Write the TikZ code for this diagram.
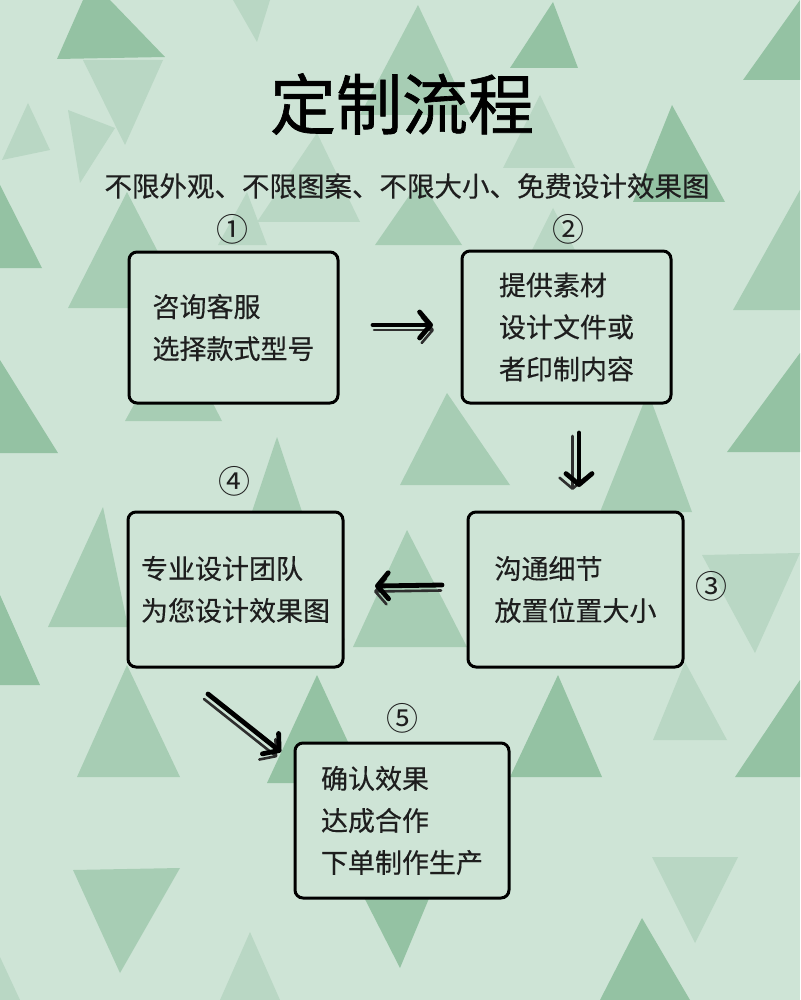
\documentclass[tikz,border=0pt]{standalone}
\usepackage{fontspec}
\setmainfont{Noto Sans CJK SC}
\newfontfamily\cjk{Noto Sans CJK SC}
\newfontfamily\cjkb[FakeBold=1]{Noto Sans CJK SC}
\newfontfamily\cjkm[FakeBold=0.4]{Noto Sans CJK SC}
\usetikzlibrary{arrows.meta}
\definecolor{bgc}{HTML}{CEE4D6}
\definecolor{tl}{HTML}{B9D7C4}
\definecolor{tm}{HTML}{A7CDB4}
\definecolor{td}{HTML}{94C2A3}
\definecolor{ink}{HTML}{1E1E1E}
\definecolor{shade}{HTML}{2E2E2E}
\tikzset{
  stepbox/.style={draw=black, line width=3pt, rounded corners=8pt, fill=bgc,
    align=left, text=ink, font=\cjkm\fontsize{27}{42}\selectfont, inner sep=0pt},
  numlabel/.style={text=ink, font=\cjk\fontsize{32}{32}\selectfont, inner sep=0pt},
  arrowline/.style={line width=4.8pt, line cap=round, draw=black,
    -{Straight Barb[length=11pt,width=26pt,round]}},
  arrowshade/.style={line width=2.6pt, line cap=round, draw=shade,
    -{Straight Barb[length=11pt,width=26pt,round]}},
}
\begin{document}
\begin{tikzpicture}[x=1pt,y=-1pt]
\useasboundingbox (0,0) rectangle (800,1000);
\fill[bgc] (0,0) rectangle (800,1000);
% background triangles
\fill[td] (57,59) -- (165,57) -- (110,0) -- (83,0) -- cycle;
\fill[tl] (83,60) -- (163,60) -- (125,145) -- cycle;
\fill[tl] (233,0) -- (270,0) -- (257,42) -- cycle;
\fill[tl] (28,103) -- (2,160) -- (50,150) -- cycle;
\fill[tl] (68,110) -- (115,128) -- (80,183) -- cycle;
\fill[td] (0,185) -- (42,268) -- (0,268) -- cycle;
\fill[tm] (127,192) -- (68,308) -- (187,308) -- cycle;
\fill[tm] (175,330) -- (125,421) -- (222,421) -- cycle;
\fill[td] (0,360) -- (58,453) -- (0,453) -- cycle;
\fill[tm] (418,5) -- (360,115) -- (470,115) -- cycle;
\fill[tl] (540,95) -- (503,168) -- (575,168) -- cycle;
\fill[td] (553,2) -- (510,68) -- (578,68) -- cycle;
\fill[td] (800,0) -- (743,80) -- (800,80) -- cycle;
\fill[td] (672,105) -- (633,202) -- (725,202) -- cycle;
\fill[tl] (317,133) -- (257,222) -- (360,222) -- cycle;
\fill[tl] (247,192) -- (218,245) -- (267,245) -- cycle;
\fill[tm] (420,180) -- (375,245) -- (462,245) -- cycle;
\fill[tl] (553,208) -- (532,250) -- (575,250) -- cycle;
\fill[tm] (800,190) -- (733,310) -- (800,310) -- cycle;
\fill[td] (800,353) -- (727,452) -- (800,452) -- cycle;
\fill[tm] (447,393) -- (400,485) -- (510,485) -- cycle;
\fill[tm] (648,392) -- (600,512) -- (692,512) -- cycle;
\fill[tm] (103,507) -- (48,627) -- (128,627) -- cycle;
\fill[tm] (277,437) -- (209,640) -- (345,640) -- cycle;
\fill[tm] (407,530) -- (353,647) -- (467,647) -- cycle;
\fill[td] (0,595) -- (40,685) -- (0,685) -- cycle;
\fill[tm] (127,665) -- (77,777) -- (180,777) -- cycle;
\fill[td] (317,675) -- (267,783) -- (367,783) -- cycle;
\fill[tm] (73,870) -- (180,868) -- (120,973) -- cycle;
\fill[tl] (250,932) -- (220,1000) -- (280,1000) -- cycle;
\fill[tl] (0,957) -- (20,1000) -- (0,1000) -- cycle;
\fill[td] (345,860) -- (445,860) -- (400,968) -- cycle;
\fill[tl] (702,555) -- (800,553) -- (755,653) -- cycle;
\fill[tl] (685,662) -- (653,740) -- (727,740) -- cycle;
\fill[td] (558,675) -- (510,777) -- (602,777) -- cycle;
\fill[td] (800,680) -- (735,777) -- (800,777) -- cycle;
\fill[tl] (652,857) -- (738,857) -- (695,943) -- cycle;
\fill[td] (642,918) -- (600,1000) -- (690,1000) -- cycle;

% title and subtitle
\node[text=black, font=\cjkb\fontsize{66}{66}\selectfont, inner sep=0pt] (title) at (402,104) {定制流程};
\node[text=ink, font=\cjkm\fontsize{27.5}{27.5}\selectfont, inner sep=0pt] (sub) at (407,186) {不限外观、不限图案、不限大小、免费设计效果图};

% boxes
\node[stepbox, minimum width=209pt, minimum height=151pt] (b1) at (233.5,327.5) {咨询客服\\选择款式型号};
\node[stepbox, minimum width=209pt, minimum height=152pt] (b2) at (566.5,327) {提供素材\\设计文件或\\者印制内容};
\node[stepbox, minimum width=215pt, minimum height=155pt] (b3) at (575.5,589.5) {沟通细节\\放置位置大小};
\node[stepbox, minimum width=215pt, minimum height=155pt] (b4) at (235.5,589.5) {专业设计团队\\为您设计效果图};
\node[stepbox, minimum width=214pt, minimum height=155pt] (b5) at (402,820.5) {确认效果\\达成合作\\下单制作生产};

% step numbers
\node[numlabel] (n1) at (232,229) {①};
\node[numlabel] (n2) at (568,229) {②};
\node[numlabel] (n3) at (711,586) {③};
\node[numlabel] (n4) at (234,481) {④};
\node[numlabel] (n5) at (402,718) {⑤};

% arrow end points
\coordinate (r1) at (373,325);
\coordinate (r2) at (433,325);
\coordinate (d1) at (579,433);
\coordinate (d2) at (579,487);
\coordinate (l1) at (442,585);
\coordinate (l2) at (375,586);
\coordinate (g1) at (208,694);
\coordinate (g2) at (281,752);

% arrow shadows
\draw[arrowshade, transform canvas={shift={(1pt,-5pt)}}] (r1) -- (r2);
\draw[arrowshade, transform canvas={shift={(-6.5pt,-3pt)}}] (d1) -- (d2);
\draw[arrowshade, transform canvas={shift={(-1pt,-5.5pt)}}] (l1) -- (l2);
\draw[arrowshade, transform canvas={shift={(-4pt,-5pt)}}] (g1) -- (g2);
% arrows
\draw[arrowline] (r1) -- (r2);
\draw[arrowline] (d1) -- (d2);
\draw[arrowline] (l1) -- (l2);
\draw[arrowline] (g1) -- (g2);
\end{tikzpicture}
\end{document}
